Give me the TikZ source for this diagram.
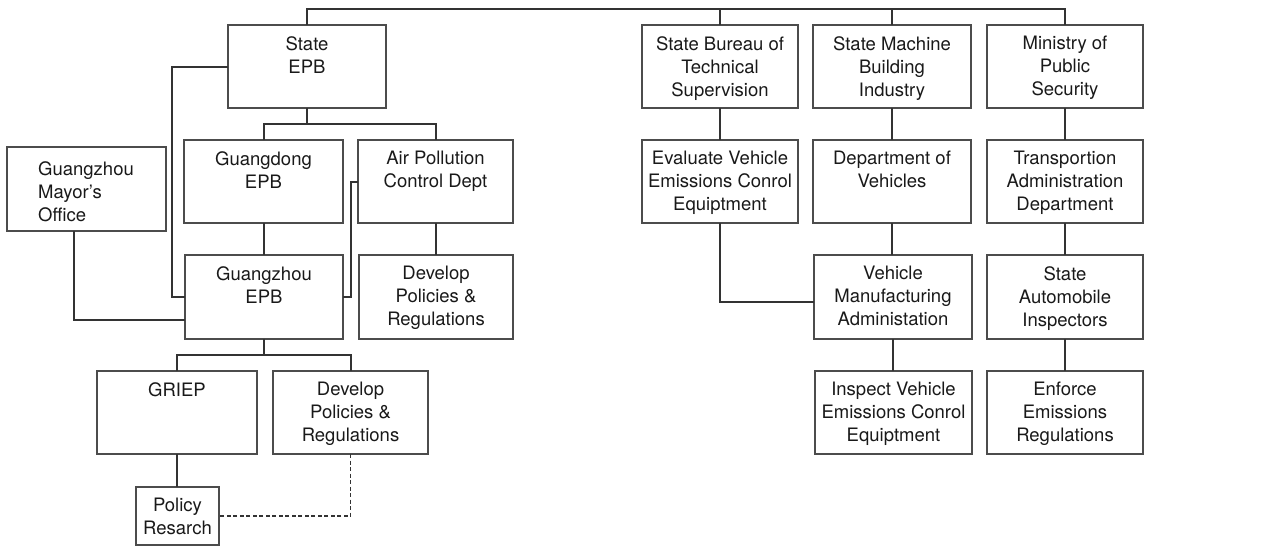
\documentclass[tikz,border=0pt]{standalone}
\usepackage{fontspec}
\setmainfont{TeX Gyre Heros}
\newcommand{\boxfont}{\fontsize{18.5}{23}\selectfont}
\begin{document}
\begin{tikzpicture}[x=1pt,y=-1pt,
  box/.style={draw=black!70, line width=1.2pt, inner sep=0pt, outer sep=0pt,
    anchor=north west, minimum width=157pt, minimum height=83pt},
  lbl/.style={anchor=north, align=center, inner sep=0pt, font=\boxfont, text=black!90, yshift=-11pt},
  link/.style={line width=2pt, black!80},
  dotlink/.style={link, line width=1.4pt, dash pattern=on 4pt off 2.5pt}]
\useasboundingbox (0,0) rectangle (1264,546);

% top row
\node[box, minimum width=158pt] (sepb) at (228,25) [label={[lbl]north:{State\\EPB}}] {};
\node[box, minimum width=156pt] (sbts) at (642,25) [label={[lbl]north:{State Bureau of\\Technical\\Supervision}}] {};
\node[box, minimum width=158pt] (smbi) at (813,25) [label={[lbl]north:{State Machine\\Building\\Industry}}] {};
\node[box, minimum width=156pt] (mps) at (987,25) [label={[lbl]north:{Ministry of\\Public\\Security}}] {};

% second row
\node[box, minimum width=159pt, minimum height=84pt] (mayor) at (7,147)
  [label={[lbl, anchor=north west, align=left, xshift=31pt, yshift=-3pt]north west:{Guangzhou\\Mayor's\\Office}}] {};
\node[box, minimum width=159pt] (gdepb) at (184,140) [label={[lbl]north:{Guangdong\\EPB}}] {};
\node[box, minimum width=155pt] (apcd) at (358,140) [label={[lbl]north:{Air Pollution\\Control Dept}}] {};
\node[box, minimum width=156pt] (eval) at (642,140) [label={[lbl]north:{Evaluate Vehicle\\Emissions Conrol\\Equiptment}}] {};
\node[box, minimum width=158pt] (dov) at (813,140) [label={[lbl]north:{Department of\\Vehicles}}] {};
\node[box, minimum width=156pt] (tad) at (987,140) [label={[lbl]north:{Transportion\\Administration\\Department}}] {};

% third row
\node[box, minimum width=158pt, minimum height=84pt] (gzepb) at (185,255) [label={[lbl]north:{Guangzhou\\EPB}}] {};
\node[box, minimum width=154pt, minimum height=84pt] (dpra) at (359,255) [label={[lbl]north:{Develop\\Policies \&\\Regulations}}] {};
\node[box, minimum width=158pt, minimum height=84pt] (vma) at (814,255) [label={[lbl]north:{Vehicle\\Manufacturing\\Administation}}] {};
\node[box, minimum width=156pt, minimum height=84pt] (sai) at (987,255) [label={[lbl]north:{State\\Automobile\\Inspectors}}] {};

% fourth row
\node[box, minimum width=160pt] (griep) at (97,371) [label={[lbl]north:{GRIEP}}] {};
\node[box, minimum width=155pt] (dprb) at (273,371) [label={[lbl]north:{Develop\\Policies \&\\Regulations}}] {};
\node[box, minimum width=157pt] (insp) at (815,371) [label={[lbl]north:{Inspect Vehicle\\Emissions Conrol\\Equiptment}}] {};
\node[box, minimum width=156pt] (enf) at (987,371) [label={[lbl]north:{Enforce\\Emissions\\Regulations}}] {};

% bottom
\node[box, minimum width=83pt, minimum height=58pt] (pr) at (136,487) [label={[lbl]north:{Policy\\Resarch}}] {};

% helper coordinates for the bus lines
\coordinate (topbar) at (0,9);
\coordinate (busa) at (0,124);
\coordinate (busb) at (0,355);
\coordinate (xl) at (172,0);
\coordinate (xr) at (351,0);
\coordinate (mx) at (74,0);
\coordinate (my) at (0,320);
\coordinate (ey) at (0,302);

% top bus
\draw[link] (sepb.north) |- (topbar -| mps.north) -- (mps.north);
\draw[link] (sbts.north) -- (sbts.north |- topbar);
\draw[link] (smbi.north) -- (smbi.north |- topbar);

% State EPB branch
\draw[link] (sepb.south) -- (sepb.south |- busa);
\draw[link] (gdepb.north) |- (busa -| apcd.north) -- (apcd.north);
\draw[link] (gdepb.south) -- (gdepb.south |- gzepb.north);
\draw[link] (apcd.south) -- (apcd.south |- dpra.north);
\draw[link] (sepb.west) -- (sepb.west -| xl) |- (gzepb.west);
\draw[link] (apcd.west) -| (xr |- gzepb.east) -- (gzepb.east);
\draw[link] (mx |- mayor.south) |- (gzepb.west |- my);

% Guangzhou EPB branch
\draw[link] (gzepb.south) -- (gzepb.south |- busb);
\draw[link] (griep.north) |- (busb -| dprb.north) -- (dprb.north);
\draw[link] (griep.south) -- (griep.south |- pr.north);
\draw[dotlink] (dprb.south) |- (pr.east);

% national columns
\draw[link] (sbts.south) -- (sbts.south |- eval.north);
\draw[link] (eval.south) |- (vma.west |- ey);
\draw[link] (smbi.south) -- (smbi.south |- dov.north);
\draw[link] (dov.south) -- (dov.south |- vma.north);
\draw[link] (vma.south) -- (vma.south |- insp.north);
\draw[link] (mps.south) -- (mps.south |- tad.north);
\draw[link] (tad.south) -- (tad.south |- sai.north);
\draw[link] (sai.south) -- (sai.south |- enf.north);
\end{tikzpicture}
\end{document}
